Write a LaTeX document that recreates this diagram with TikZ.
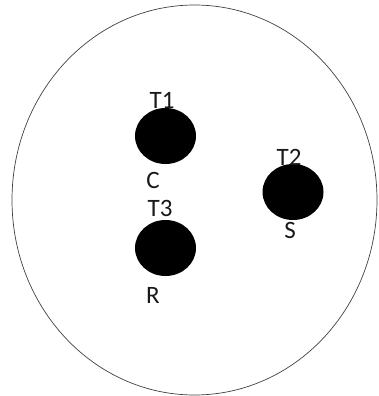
\documentclass[tikz,border=0pt]{standalone}
\usepackage{fontspec}
\setmainfont{Carlito}
\usetikzlibrary{positioning,shapes.geometric}
\tikzset{
  blob/.style={ellipse,fill=black,minimum width=61pt,minimum height=56pt,inner sep=0pt},
  tag/.style={font=\fontsize{25}{25}\selectfont,inner sep=0pt,text=black!90},
}

\begin{document}
\begin{tikzpicture}[x=1pt,y=-1pt]
  \useasboundingbox (0,0) rectangle (378,396);
  % dish
  \draw[black!75,line width=0.7pt] (194.5,200) ellipse [x radius=182.5,y radius=195];
  % colonies
  \foreach \n/\x/\y in {b1/165.5/136,b2/293/192,b3/165.5/248}
    \node[blob] (\n) at (\x,\y) {};
  \node[tag] (t1) at (162,100) {T1};
  \node[tag] (c) at (153,180) {C};
  \node[tag] (t3) at (160,208) {T3};
  \node[tag] (r) at (153,295) {R};
  \node[tag] (t2) at (289,157) {T2};
  \node[tag] (s) at (290,230) {S};
\end{tikzpicture}
\end{document}
